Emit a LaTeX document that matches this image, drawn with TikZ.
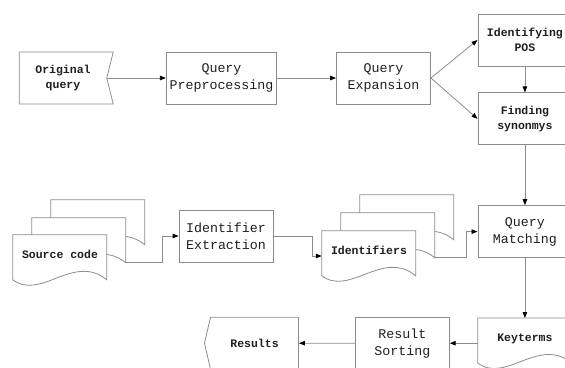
\documentclass[tikz,border=0pt]{standalone}
\usepackage{fontspec}
\usepackage{tikz}
\usetikzlibrary{shapes.symbols, arrows.meta, positioning, backgrounds}
\newfontfamily\diagfont{Liberation Mono}
\newcommand{\bigtext}{\diagfont\fontsize{13.3}{17}\selectfont}
\newcommand{\smalltext}{\diagfont\bfseries\fontsize{11.5}{15}\selectfont}
\definecolor{boxgray}{gray}{0.55}
\definecolor{textgray}{gray}{0.12}
% one sheet of a document stack, shifted from the top left of a node
\newcommand{\docpage}[3]{%
    \draw [page, shift={(#1.north west)}, xshift=#2, yshift=#3]
        (0,0) -- (94,0) -- (94,-45) .. controls (61,-18) and (28,-66) .. (0,-45) -- cycle;}
\tikzset{
    proc/.style={
        rectangle,
        draw=boxgray,
        line width=0.8pt,
        minimum width=94pt,
        minimum height=52pt,
        align=center,
        text=textgray,
        font=\bigtext
    },
    smallproc/.style={
        proc,
        font=\smalltext
    },
    flagbox/.style={
        proc,
        signal,
        signal to=nowhere,
        signal from=east,
        signal pointer angle=152,
        font=\smalltext
    },
    outbox/.style={
        proc,
        signal,
        signal to=west,
        signal from=nowhere,
        signal pointer angle=154,
        font=\smalltext
    },
    docnode/.style={
        minimum width=94pt,
        minimum height=50pt,
        inner sep=0pt,
        text height=6pt,
        text depth=10pt,
        text=textgray,
        font=\smalltext
    },
    page/.style={
        draw=boxgray,
        line width=0.8pt,
        fill=white
    },
    flow/.style={
        draw=boxgray,
        line width=0.8pt,
        -{Triangle[length=6pt, width=4.5pt, color=black]}
    }
}

\begin{document}
\begin{tikzpicture}[x=1pt, y=1pt]
    \useasboundingbox (0,0) rectangle (565,-367);
    \clip (0,0) rectangle (565,-367);

    % Nodes for the query steps
    \node (original) [flagbox] at (63,-78) {Original\\query};
    \node (preprocess) [proc] at (221.5,-78) {Query\\Preprocessing};
    \node (expansion) [proc, right=59pt of preprocess] {Query\\Expansion};
    \node (pos) [smallproc] at ([xshift=94pt, yshift=38pt]expansion.east) {Identifying\\POS};
    \node (synonym) [smallproc, below=26pt of pos] {Finding\\synonmys};
    \node (matching) [proc, below=60pt of synonym] {Query\\Matching};
    \node (keyterms) [docnode, below=60pt of matching] {Keyterms};
    \node (sorting) [proc, left=28pt of keyterms] {Result\\Sorting};
    \node (results) [outbox, left=56pt of sorting] {Results};

    % Nodes for the source side
    \node (source) [docnode] at (60,-260) {Source code};
    \node (extraction) [proc] at (226,-236) {Identifier\\Extraction};
    \node (identifiers) [docnode] at (369,-256) {Identifiers};

    % Sheets behind the document nodes
    \begin{scope}[on background layer]
        \docpage{source}{38}{35}
        \docpage{source}{19}{17}
        \docpage{source}{0}{0}
        \docpage{identifiers}{38}{36}
        \docpage{identifiers}{19}{18}
        \docpage{identifiers}{0}{0}
        \docpage{keyterms}{0}{0}
    \end{scope}
    \coordinate (srcout) at ([shift={(19,-28)}]source.north east);
    \coordinate (identout) at ([shift={(19,-27)}]identifiers.north east);

    % Flow arrows
    \draw [flow] (original.east) -- (preprocess.west);
    \draw [flow] (preprocess.east) -- (expansion.west);
    \draw [flow] (expansion.east) -- (pos.west);
    \draw [flow] (expansion.east) -- (synonym.west);
    \draw [flow] (pos) -- (synonym);
    \draw [flow] (synonym) -- (matching);
    \draw [flow] (matching) -- (keyterms);
    \draw [flow] (keyterms) -- (sorting);
    \draw [flow] (sorting) -- (results);
    \draw [flow] (srcout) -- ++(36,0) |- (extraction.west);
    \draw [flow] (extraction.east) -- ++(39,0) |- (identifiers.west);
    \draw [flow] (identout) -- ++(31,0) |- (matching.west);

\end{tikzpicture}
\end{document}
